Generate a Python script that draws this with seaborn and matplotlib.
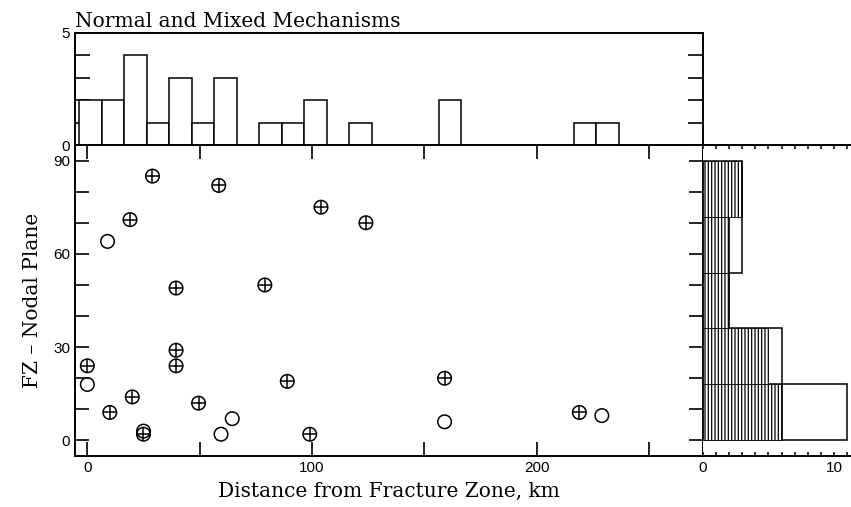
import numpy as np
import pandas as pd
import seaborn as sns
import matplotlib.pyplot as plt
from matplotlib.ticker import MultipleLocator, FixedLocator, FuncFormatter

# distance from fracture zone (km) and FZ - nodal plane angle (deg)
mixed_dist = [0, 10, 19, 20, 25, 29, 39.5, 39.5, 39.5, 49.5, 58.5, 79, 89, 99, 104, 124, 159, 219]
mixed_plane = [24, 9, 71, 14, 2, 85, 49, 29, 24, 12, 82, 50, 19, 2, 75, 70, 20, 9]
normal_dist = [0, 9, 25, 59.5, 64.5, 159, 229]
normal_plane = [18, 64, 3, 2, 7, 6, 8]

dist_bins = np.arange(-3.5, 240, 10)
plane_bins = [0, 18, 36, 54, 72, 90]

df = pd.DataFrame({
    'dist': mixed_dist + normal_dist,
    'plane': mixed_plane + normal_plane,
    'kind': ['mixed'] * len(mixed_dist) + ['normal'] * len(normal_dist),
})
mixed = df[df.kind == 'mixed']

sns.set_style('ticks')
plt.rcParams['font.family'] = ['Liberation Sans', 'DejaVu Sans']
plt.rcParams['hatch.linewidth'] = 0.9
plt.rcParams['axes.linewidth'] = 1.4
plt.rcParams['text.color'] = 'black'
plt.rcParams['axes.labelcolor'] = 'black'
plt.rcParams['axes.edgecolor'] = 'black'
plt.rcParams['xtick.color'] = 'black'
plt.rcParams['ytick.color'] = 'black'

label_font = dict(family='DejaVu Serif', fontsize=14.5)

fig = plt.figure(figsize=(8.51, 5.07), dpi=100)
ax = fig.add_axes([0.0881, 0.1006, 0.7379, 0.6134])
ax_top = fig.add_axes([0.0881, 0.714, 0.7379, 0.221], sharex=ax)
ax_right = fig.add_axes([0.826, 0.1006, 0.174, 0.6134], sharey=ax)

# scatter: circles for all, plus sign for mixed
sns.scatterplot(data=df, x='dist', y='plane', marker='o', s=95,
                facecolor='none', edgecolor='black', linewidth=1.1, ax=ax)
sns.scatterplot(data=mixed, x='dist', y='plane', marker='+', s=95,
                color='black', linewidth=1.1, ax=ax)
ax.set_xlim(-5.5, 274)
ax.set_ylim(-5, 95)
ax.xaxis.set_major_locator(MultipleLocator(50))
ax.xaxis.set_major_formatter(FuncFormatter(lambda v, p: f'{v:.0f}' if v % 100 == 0 else ''))
ax.yaxis.set_major_locator(MultipleLocator(10))
ax.yaxis.set_major_formatter(FuncFormatter(lambda v, p: f'{v:.0f}' if v % 30 == 0 else ''))
ax.tick_params(direction='in', length=10, width=1.2, top=True, right=True, labelsize=11)
ax.set_xlabel('Distance from Fracture Zone, km', labelpad=5, **label_font)
ax.set_ylabel('FZ \u2013 Nodal Plane', labelpad=8, **label_font)

# top histogram
sns.histplot(data=df, x='dist', bins=dist_bins, color='white', edgecolor='black',
             alpha=1, linewidth=1.1, ax=ax_top)
ax_top.set_ylim(0, 5)
ax_top.yaxis.set_major_locator(FixedLocator([0, 5]))
ax_top.yaxis.set_minor_locator(MultipleLocator(1))
ax_top.tick_params(axis='y', which='both', direction='in', length=11, width=1.2,
                   right=True, labelsize=11, pad=4)
ax_top.tick_params(axis='x', bottom=False, labelbottom=False)
ax_top.set_xlabel('')
ax_top.set_ylabel('')
ax_top.set_title('Normal and Mixed Mechanisms', loc='left', pad=4, **label_font)

# right histogram: all events outlined, mixed events hatched
sns.histplot(data=df, y='plane', bins=plane_bins, color='white', edgecolor='black',
             alpha=1, linewidth=1.1, ax=ax_right)
sns.histplot(data=mixed, y='plane', bins=plane_bins, color='white', edgecolor='black',
             alpha=1, linewidth=0.6, hatch='|||||', ax=ax_right)
ax_right.set_xlim(0, 11.3)
ax_right.spines['right'].set_visible(False)
ax_right.spines['left'].set_visible(False)
ax_right.xaxis.set_major_locator(FixedLocator([0, 10]))
ax_right.xaxis.set_minor_locator(MultipleLocator(1))
ax_right.tick_params(axis='x', which='both', direction='in', length=3, width=1.1,
                     top=True, labelsize=11)
ax_right.tick_params(axis='y', left=False, labelleft=False)
ax_right.set_xlabel('')
ax_right.set_ylabel('')

fig.savefig('out.png', dpi=100)
